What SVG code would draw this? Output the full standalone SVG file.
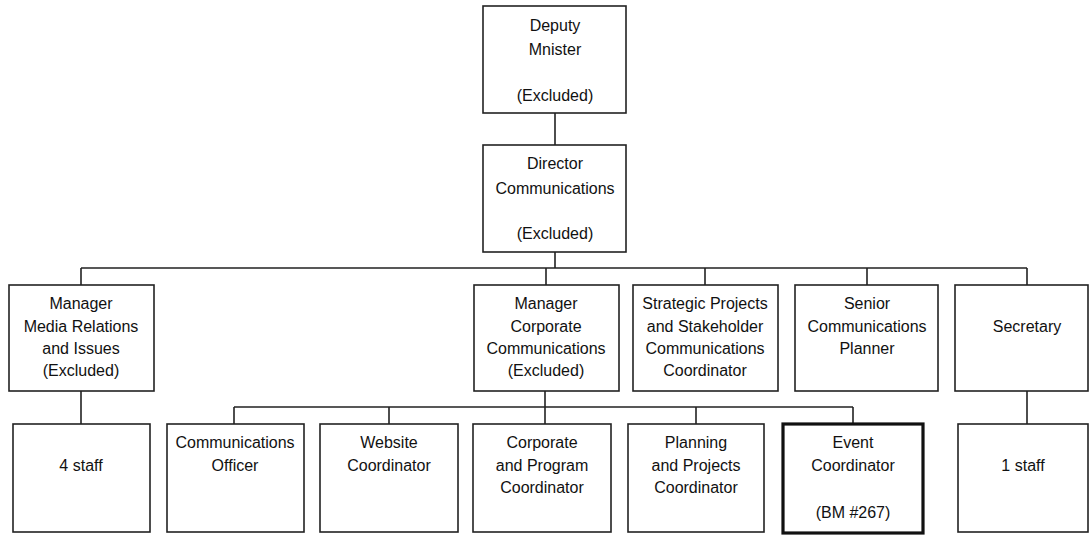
<svg xmlns="http://www.w3.org/2000/svg" width="1090" height="536" viewBox="0 0 1090 536">
<style>
.box{fill:#fff;stroke:#222;stroke-width:1.6}
.thick{fill:#fff;stroke:#111;stroke-width:3.2}
.conn{fill:none;stroke:#222;stroke-width:1.6}
text{font-family:"Liberation Sans",Arial,sans-serif;font-size:16px;fill:#111;text-anchor:middle}
</style>
<rect width="1090" height="536" fill="#fff"/>
<g id="connectors">
<path class="conn" d="M555,113 V145 M555,252 V268 M81,268 H1027 M81,268 V285 M546,268 V285 M705,268 V285 M867,268 V285 M1027,268 V285"/>
<path class="conn" d="M81,391 V424 M1027,391 V424"/>
<path class="conn" d="M545,391 V407 M234,407 H853 M234,407 V424 M389,407 V424 M545,407 V424 M696,407 V424 M853,407 V424"/>
</g>
<g id="deputy-minister">
<rect class="box" x="483" y="6" width="143" height="107"/>
<text x="555" y="31">Deputy</text>
<text x="555" y="55">Mnister</text>
<text x="555" y="101">(Excluded)</text>
</g>
<g id="director">
<rect class="box" x="483" y="145" width="143" height="107"/>
<text x="555" y="169">Director</text>
<text x="555" y="194">Communications</text>
<text x="555" y="239">(Excluded)</text>
</g>
<g id="manager-media">
<rect class="box" x="9" y="285" width="145" height="106"/>
<text x="81" y="309">Manager</text>
<text x="81" y="332">Media Relations</text>
<text x="81" y="354">and Issues</text>
<text x="81" y="376">(Excluded)</text>
</g>
<g id="manager-corporate">
<rect class="box" x="474" y="285" width="145" height="106"/>
<text x="546" y="309">Manager</text>
<text x="546" y="332">Corporate</text>
<text x="546" y="354">Communications</text>
<text x="546" y="376">(Excluded)</text>
</g>
<g id="strategic">
<rect class="box" x="633" y="285" width="145" height="106"/>
<text x="705" y="309">Strategic Projects</text>
<text x="705" y="332">and Stakeholder</text>
<text x="705" y="354">Communications</text>
<text x="705" y="376">Coordinator</text>
</g>
<g id="senior-planner">
<rect class="box" x="795" y="285" width="143" height="106"/>
<text x="867" y="309">Senior</text>
<text x="867" y="332">Communications</text>
<text x="867" y="354">Planner</text>
</g>
<g id="secretary">
<rect class="box" x="955" y="285" width="133" height="106"/>
<text x="1027" y="332">Secretary</text>
</g>
<g id="four-staff">
<rect class="box" x="13" y="424" width="137" height="108"/>
<text x="81" y="471">4 staff</text>
</g>
<g id="comms-officer">
<rect class="box" x="167" y="424" width="137" height="108"/>
<text x="235" y="448">Communications</text>
<text x="235" y="471">Officer</text>
</g>
<g id="website">
<rect class="box" x="320" y="424" width="138" height="108"/>
<text x="389" y="448">Website</text>
<text x="389" y="471">Coordinator</text>
</g>
<g id="corporate-program">
<rect class="box" x="473" y="424" width="138" height="108"/>
<text x="542" y="448">Corporate</text>
<text x="542" y="471">and Program</text>
<text x="542" y="493">Coordinator</text>
</g>
<g id="planning">
<rect class="box" x="628" y="424" width="136" height="108"/>
<text x="696" y="448">Planning</text>
<text x="696" y="471">and Projects</text>
<text x="696" y="493">Coordinator</text>
</g>
<g id="event">
<rect class="thick" x="783" y="424" width="140" height="109"/>
<text x="853" y="448">Event</text>
<text x="853" y="471">Coordinator</text>
<text x="853" y="518">(BM #267)</text>
</g>
<g id="one-staff">
<rect class="box" x="958" y="424" width="130" height="108"/>
<text x="1023" y="471">1 staff</text>
</g>
</svg>
